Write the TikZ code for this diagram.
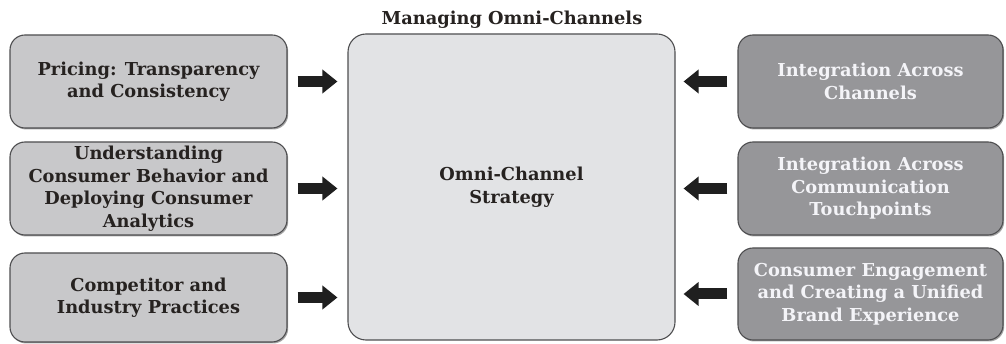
\documentclass[tikz,border=0pt]{standalone}
\usepackage{fontspec}
\setmainfont{DejaVu Serif}
\usetikzlibrary{arrows.meta,shadows}
\definecolor{leftfill}{RGB}{200,200,202}
\definecolor{midfill}{RGB}{226,227,229}
\definecolor{rightfill}{RGB}{150,150,153}
\definecolor{edgegray}{RGB}{78,78,80}
\definecolor{darktext}{RGB}{38,34,32}
\definecolor{lighttext}{RGB}{244,244,248}
\tikzset{
  boxfont/.style={font=\fontsize{17.8}{22.5}\selectfont\bfseries},
  softshadow/.style={drop shadow={shadow xshift=1.2pt, shadow yshift=-1.5pt,
    opacity=0.35, fill=black}},
  sidebox/.style={draw=edgegray, line width=1.1pt, rounded corners=15pt,
    align=center, boxfont, softshadow},
  leftbox/.style={sidebox, fill=leftfill, text=darktext, minimum width=277pt},
  rightbox/.style={sidebox, fill=rightfill, text=lighttext, minimum width=265pt},
  centerbox/.style={draw=edgegray, line width=1.1pt, rounded corners=18pt, fill=midfill,
    text=darktext, align=center, boxfont},
  blockarrow/.style={line width=11pt, draw=black!88,
    -{Triangle[length=15pt,width=23pt]}},
}
\begin{document}
\begin{tikzpicture}[x=1pt,y=-1pt]
\useasboundingbox (0,0) rectangle (1006,344);
% title
\node[boxfont, text=darktext] (title) at (512,20) {Managing Omni-Channels};
% central strategy box
\node[centerbox, minimum width=327pt, minimum height=306pt] (mid) at (511.5,187) {Omni-Channel\\Strategy};
% left inputs
\node[leftbox, minimum height=93pt] (l1) at (148.5,81.5) {Pricing: Transparency\\and Consistency};
\node[leftbox, minimum height=93pt] (l2) at (148.5,188.5) {Understanding\\Consumer Behavior and\\Deploying Consumer\\Analytics};
\node[leftbox, minimum height=89pt] (l3) at (148.5,297.5) {Competitor and\\Industry Practices};
% right inputs
\node[rightbox, minimum height=93pt] (r1) at (870.5,81.5) {Integration Across\\Channels};
\node[rightbox, minimum height=93pt] (r2) at (870.5,188.5) {Integration Across\\Communication\\Touchpoints};
\node[rightbox, minimum height=92pt] (r3) at (870.5,294) {Consumer Engagement\\and Creating a Unified\\Brand Experience};
% arrows into the strategy box
\draw[blockarrow] ([xshift=10pt]l1.east) -- ([xshift=-10pt]mid.west |- l1.east);
\draw[blockarrow] ([xshift=10pt]l2.east) -- ([xshift=-10pt]mid.west |- l2.east);
\draw[blockarrow] ([xshift=10pt]l3.east) -- ([xshift=-10pt]mid.west |- l3.east);
\draw[blockarrow] ([xshift=-10pt]r1.west) -- ([xshift=8pt]mid.east |- r1.west);
\draw[blockarrow] ([xshift=-10pt]r2.west) -- ([xshift=8pt]mid.east |- r2.west);
\draw[blockarrow] ([xshift=-10pt]r3.west) -- ([xshift=8pt]mid.east |- r3.west);
\end{tikzpicture}
\end{document}
